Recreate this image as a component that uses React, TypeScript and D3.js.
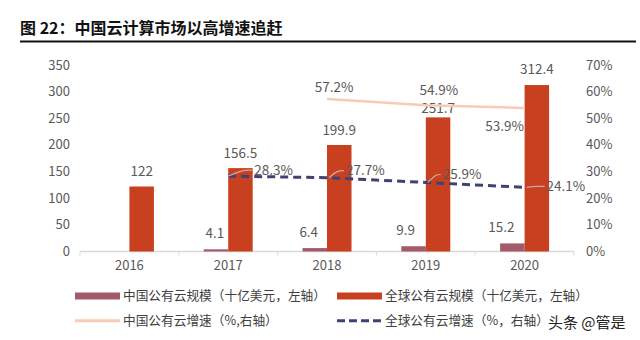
import React from 'react';
import * as d3 from 'd3';

const years = ['2016', '2017', '2018', '2019', '2020'];
const chinaScale: (number | null)[] = [null, 4.1, 6.4, 9.9, 15.2];
const globalScale: (number | null)[] = [122, 156.5, 199.9, 251.7, 312.4];
const chinaGrowth: (number | null)[] = [null, null, 57.2, 54.9, 53.9];
const globalGrowth: (number | null)[] = [null, 28.3, 27.7, 25.9, 24.1];
const leftTicks = [0, 50, 100, 150, 200, 250, 300, 350];
const rightTicks = [0, 10, 20, 30, 40, 50, 60, 70];
const legendLabels = [
  '中国公有云规模（十亿美元，左轴）',
  '全球公有云规模（十亿美元，左轴）',
  '中国公有云增速（%,右轴）',
  '全球公有云增速（%，右轴）',
];
const titleText = '图 22：中国云计算市场以高增速追赶';
const watermark = '头条 @管是';

const FONT = '"Noto Sans CJK SC", "Noto Sans", sans-serif';
const C_CHINA = '#a35a6b';
const C_GLOBAL = '#c8401f';
const C_CGROW = '#f8cbb9';
const C_GGROW = '#3f4275';
const C_TEXT = '#595959';
const C_LEADER = '#c9aaa2';

// label nudges (layout only)
const chinaLabelDx = [0, -1, -6, -8, -11];
const globalLabelDy = [-10, -10, -10, -4, -11];
const cgLabel = [null, null, { dx: 7, dy: -12, anchor: 'middle' }, { dx: 13, dy: -15, anchor: 'middle' }, { dx: -20, dy: 18, anchor: 'middle' }];
const ggLeader = [null, [[0, 0], [10, -4], [16, -6], [24, -6]], [[2, 0], [10, -7], [17, -7]], [[2, 0], [10, -8], [15, -8]], [[2, 0], [12, -1], [20, -1]]];

export default function App() {
  const W = 640, H = 340;
  const x0 = d3.scaleBand<string>().domain(years).range([80, 574]);
  const yL = d3.scaleLinear().domain([0, 350]).range([251.5, 65]);
  const yR = d3.scaleLinear().domain([0, 70]).range([251.5, 65]);
  const bw = 24.5;
  const cx = (i: number) => (x0(years[i]) as number) + x0.bandwidth() / 2;

  const lineGen = d3
    .line<[number, number | null]>()
    .defined((d) => d[1] != null)
    .x((d) => cx(d[0]))
    .y((d) => yR(d[1] as number));

  const cgPath = lineGen(chinaGrowth.map((v, i) => [i, v] as [number, number | null])) || '';
  const ggPath = lineGen(globalGrowth.map((v, i) => [i, v] as [number, number | null])) || '';

  const boundaries = years.map((y) => x0(y) as number).concat([x0.range()[1]]);

  return (
    <svg width={W} height={H} style={{ position: 'absolute', left: 0, top: 0, background: '#fff' }} fontFamily={FONT}>
      {/* Title */}
      <text x={20} y={34} fontSize={16} fontWeight="bold" fill="#111">{titleText}</text>
      <line x1={20} x2={636} y1={41.5} y2={41.5} stroke="#111" strokeWidth={2} />

      {/* Left axis labels */}
      {leftTicks.map((t) => (
        <text key={'l' + t} x={70} y={yL(t)} dy="0.35em" textAnchor="end" fontSize={13} fill={C_TEXT}>{t}</text>
      ))}
      {/* Right axis labels */}
      {rightTicks.map((t) => (
        <text key={'r' + t} x={586} y={yR(t)} dy="0.35em" textAnchor="start" fontSize={13} fill={C_TEXT}>{t + '%'}</text>
      ))}

      {/* x axis */}
      <line x1={80} x2={574} y1={251.5} y2={251.5} stroke="#d9d9d9" strokeWidth={1.5} />
      {boundaries.map((b, i) => (
        <line key={'tk' + i} x1={b} x2={b} y1={251.5} y2={255.5} stroke="#d9d9d9" strokeWidth={1} />
      ))}
      {years.map((y, i) => (
        <text key={'x' + y} x={cx(i)} y={270} textAnchor="middle" fontSize={13} fill={C_TEXT}>{y}</text>
      ))}

      {/* bars */}
      {chinaScale.map((v, i) =>
        v == null ? null : (
          <g key={'cb' + i}>
            <rect x={cx(i) - bw} y={yL(v)} width={bw} height={yL(0) - yL(v)} fill={C_CHINA} />
            <text x={cx(i) - bw / 2 + chinaLabelDx[i]} y={yL(v) - 11} textAnchor="middle" fontSize={13.5} fill={C_TEXT}>{v}</text>
          </g>
        )
      )}
      {globalScale.map((v, i) =>
        v == null ? null : (
          <g key={'gb' + i}>
            <rect x={cx(i)} y={yL(v)} width={bw} height={yL(0) - yL(v)} fill={C_GLOBAL} />
            <text x={cx(i) + bw / 2} y={yL(v) + globalLabelDy[i]} textAnchor="middle" fontSize={13.5} fill={C_TEXT}>{v}</text>
          </g>
        )
      )}

      {/* China growth line */}
      <path d={cgPath} fill="none" stroke={C_CGROW} strokeWidth={2.5} />
      {chinaGrowth.map((v, i) => {
        const l = cgLabel[i];
        if (v == null || !l) return null;
        return (
          <text key={'cg' + i} x={cx(i) + l.dx} y={yR(v) + l.dy} dy="0.35em" textAnchor={l.anchor as any} fontSize={13.5} fill={C_TEXT}>{v.toFixed(1) + '%'}</text>
        );
      })}

      {/* Global growth dashed line */}
      <path d={ggPath} fill="none" stroke={C_GGROW} strokeWidth={3} strokeDasharray="8,5" />
      {globalGrowth.map((v, i) => {
        const pts = ggLeader[i] as number[][] | null;
        if (v == null || !pts) return null;
        const px = cx(i), py = yR(v);
        const last = pts[pts.length - 1];
        const d = d3.line().curve(d3.curveBasis)(pts.map((p) => [px + p[0], py + p[1]] as [number, number])) || '';
        return (
          <g key={'gg' + i}>
            <path d={d} fill="none" stroke={C_LEADER} strokeWidth={1.2} />
            <text x={px + last[0] + 2} y={py + last[1]} dy="0.35em" fontSize={13.5} fill={C_TEXT}>{v.toFixed(1) + '%'}</text>
          </g>
        );
      })}

      {/* Legend */}
      <rect x={75} y={292.5} width={45} height={7} fill={C_CHINA} />
      <text x={123} y={296} dy="0.35em" fontSize={12.7} fill="#404040">{legendLabels[0]}</text>
      <rect x={337} y={292.5} width={45} height={7} fill={C_GLOBAL} />
      <text x={385} y={296} dy="0.35em" fontSize={12.7} fill="#404040">{legendLabels[1]}</text>
      <line x1={75} x2={120} y1={320.7} y2={320.7} stroke={C_CGROW} strokeWidth={3} />
      <text x={123} y={321} dy="0.35em" fontSize={12.7} fill="#404040">{legendLabels[2]}</text>
      <line x1={337} x2={382} y1={320.7} y2={320.7} stroke={C_GGROW} strokeWidth={3} strokeDasharray="8,4" />
      <text x={385} y={321} dy="0.35em" fontSize={12.7} fill="#404040">{legendLabels[3]}</text>

      {/* watermark */}
      <text x={548} y={323} dy="0.35em" fontSize={15} fill="#222">{watermark}</text>
    </svg>
  );
}
